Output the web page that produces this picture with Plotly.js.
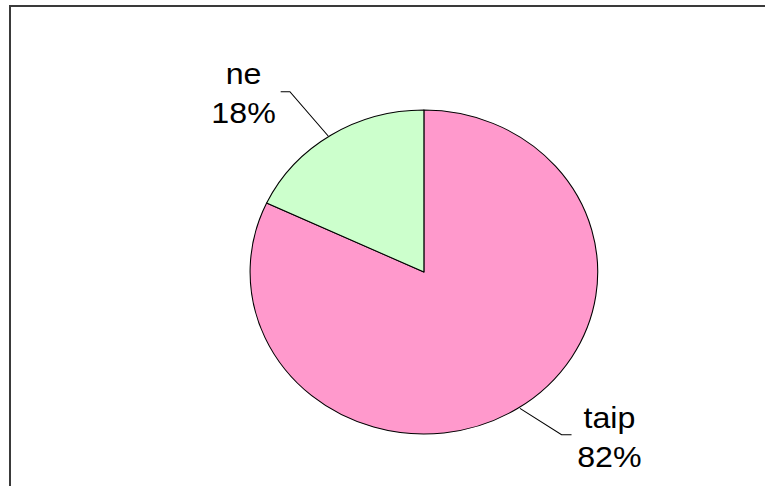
<!DOCTYPE html>
<html>
<head>
<meta charset="utf-8">
<script src="https://cdn.plot.ly/plotly-3.0.1.min.js"></script>
<style>
  html, body { margin: 0; padding: 0; overflow: hidden; background: #ffffff; }
  #chart { width: 713px; height: 486px; transform: scaleX(1.0729); transform-origin: 0 0; }
  #frame { position: absolute; left: 9px; top: 5px; width: 800px; height: 520px;
           border-left: 2px solid #3a3a3a; border-top: 2px solid #3a3a3a; pointer-events: none; }
</style>
</head>
<body>
<div id="chart"></div>
<div id="frame"></div>
<script>
// Data (order follows the pie's clockwise drawing from 12 o'clock)
const categories = ['taip', 'ne'];
const values = [82, 18];
const sliceColors = ['#FF99CC', '#CCFFCC'];

const W = 713, H = 486;
const px = x => x / W;
const py = y => 1 - y / H;

const total = values.reduce((a, b) => a + b, 0);
const pct = values.map(v => Math.round(v / total * 100) + '%');

const trace = {
  type: 'pie',
  labels: categories,
  values: values,
  sort: false,
  direction: 'clockwise',
  rotation: 0,
  textinfo: 'none',
  hoverinfo: 'none',
  showlegend: false,
  marker: { colors: sliceColors, line: { color: '#000000', width: 1 } },
  domain: { x: [px(395.1 - 162), px(395.1 + 162)], y: [py(434), py(110)] }
};

const labelFont = { family: 'Arial, "Liberation Sans", sans-serif', size: 30, color: '#000000' };

const layout = {
  width: W,
  height: H,
  margin: { l: 0, r: 0, t: 0, b: 0 },
  paper_bgcolor: '#ffffff',
  plot_bgcolor: '#ffffff',
  showlegend: false,
  annotations: [
    { x: px(226.7), y: py(93), xref: 'paper', yref: 'paper', text: categories[1] + '<br>' + pct[1],
      showarrow: false, font: labelFont, xanchor: 'center', yanchor: 'middle', align: 'center' },
    { x: px(568.4), y: py(437), xref: 'paper', yref: 'paper', text: categories[0] + '<br>' + pct[0],
      showarrow: false, font: labelFont, xanchor: 'center', yanchor: 'middle', align: 'center' }
  ],
  shapes: [
    { type: 'path', xref: 'paper', yref: 'paper',
      path: 'M ' + px(261.6) + ' ' + py(91.7) + ' L ' + px(270.2) + ' ' + py(91.7) + ' L ' + px(305.9) + ' ' + py(136),
      line: { color: '#000000', width: 1 } },
    { type: 'path', xref: 'paper', yref: 'paper',
      path: 'M ' + px(484.6) + ' ' + py(408.3) + ' L ' + px(523.4) + ' ' + py(434.7) + ' L ' + px(532.7) + ' ' + py(434.7),
      line: { color: '#000000', width: 1 } }
  ]
};

Plotly.newPlot('chart', [trace], layout, { staticPlot: true, displayModeBar: false });
</script>
</body>
</html>
